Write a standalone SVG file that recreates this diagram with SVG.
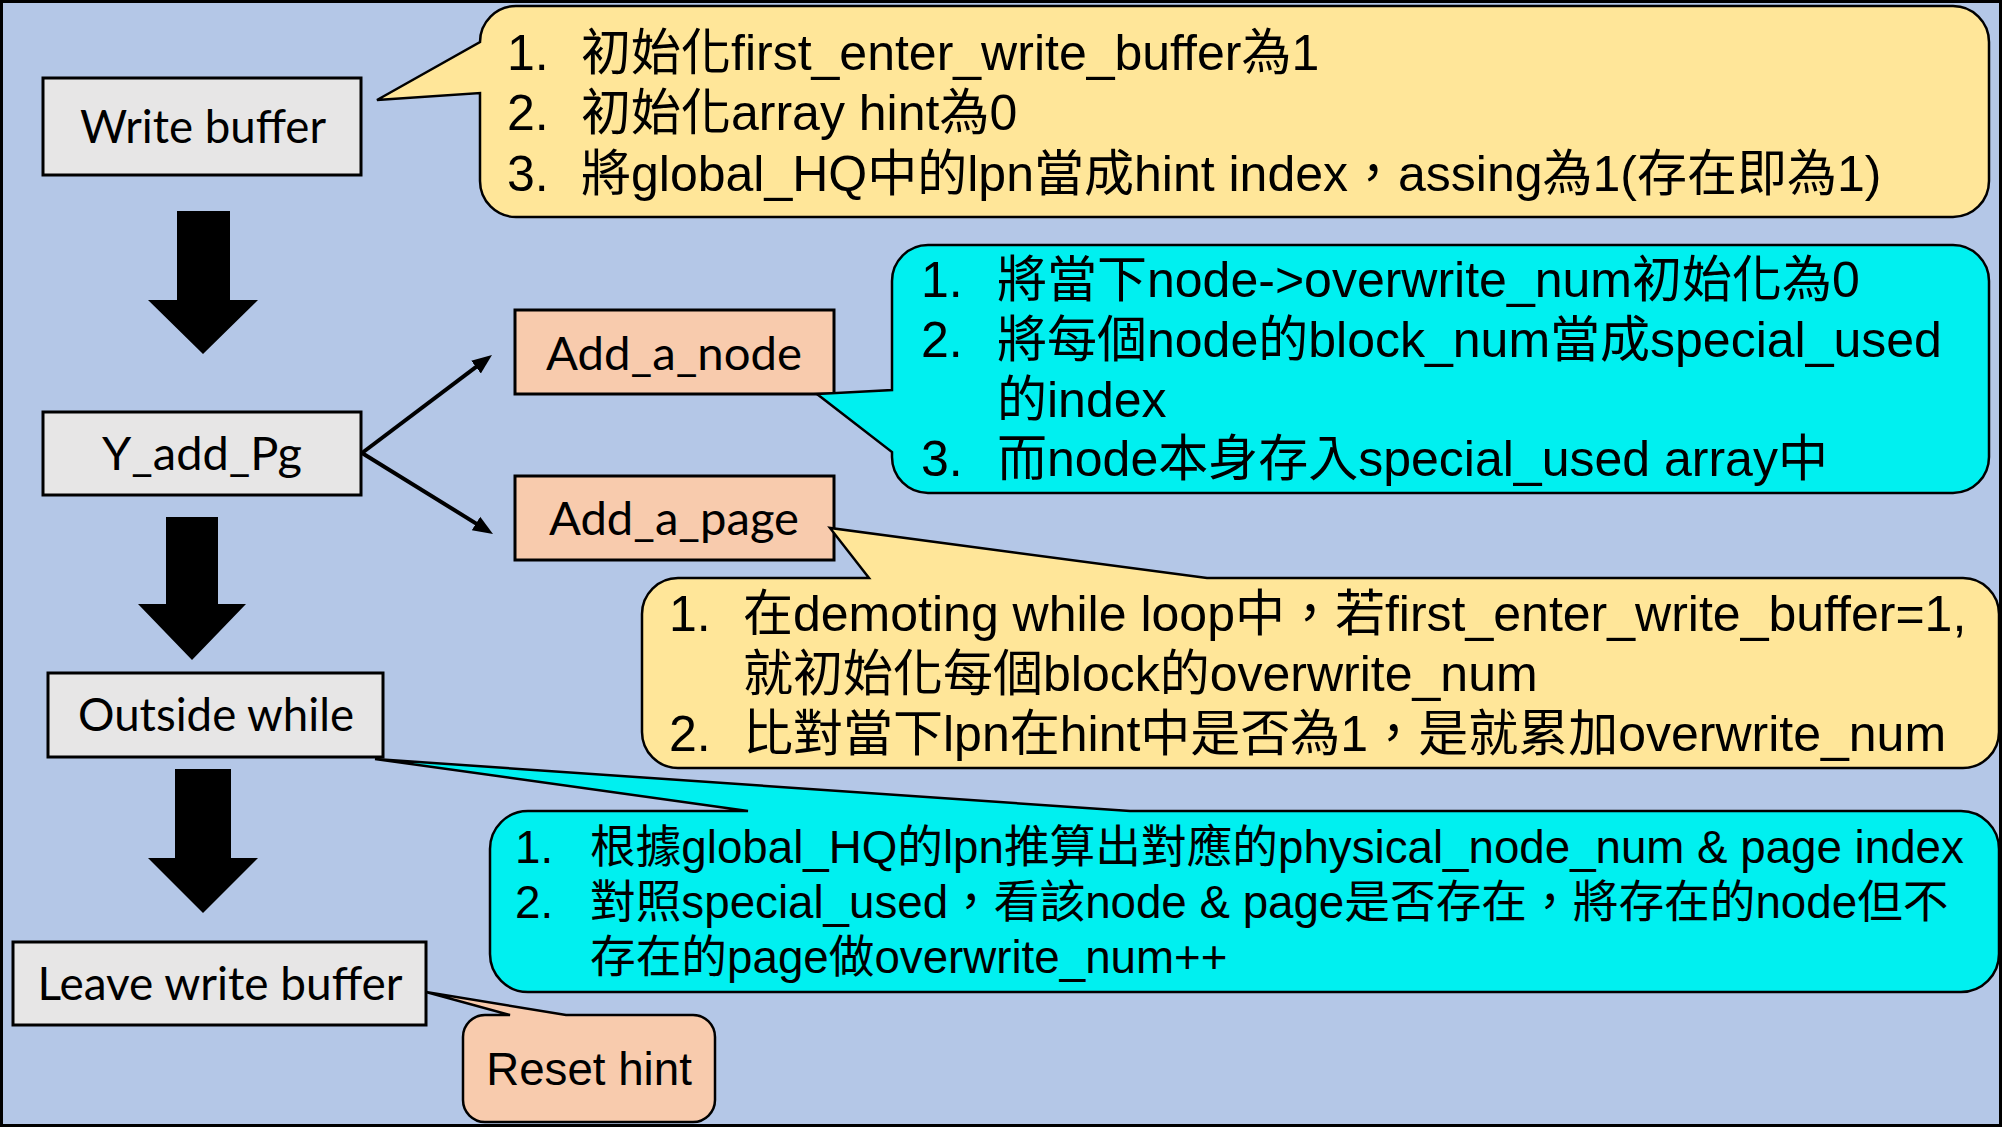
<svg xmlns="http://www.w3.org/2000/svg" width="2002" height="1127" viewBox="0 0 2002 1127">
<style>
.box{stroke:#000;stroke-width:3}
.grey{fill:#E7E6E6}
.peach{fill:#F8CBAD}
.co{stroke:#000;stroke-width:2.5;stroke-linejoin:miter}
.yel{fill:#FFE699}
.cy{fill:#00F0F0}
.lbl{font-family:Lato,"Open Sans",sans-serif;font-size:46px;fill:#000;text-anchor:middle}
.t{font-family:"Liberation Sans","Noto Sans CJK TC",sans-serif;font-size:50px;fill:#000}
.t4{font-family:"Liberation Sans","Noto Sans CJK TC",sans-serif;font-size:45.7px;fill:#000}
.blk{fill:#000}
.thin{stroke:#000;stroke-width:4;fill:none}
</style>
<defs>
<marker id="ah" viewBox="0 0 10 10" refX="3" refY="5" markerWidth="20" markerHeight="20" markerUnits="userSpaceOnUse" orient="auto">
<path d="M0,1 L10,5 L0,9 Z" fill="#000"/>
</marker>
</defs>
<rect x="1.5" y="1.5" width="1999" height="1124" fill="#B4C7E7" stroke="#000" stroke-width="3"/>

<g id="connectors">
<path class="blk" d="M177,211 H230 V300 H258 L203,354 L148,300 H177 Z"/>
<path class="blk" d="M166,517 H218 V604 H246 L192,660 L138,604 H166 Z"/>
<path class="blk" d="M175,769 H231 V858 H258 L203,913 L148,858 H175 Z"/>
<line class="thin" x1="362" y1="453" x2="480.8" y2="363.4" marker-end="url(#ah)"/>
<line class="thin" x1="362" y1="453" x2="481.1" y2="526.6" marker-end="url(#ah)"/>
</g>

<g id="write_buffer">
<rect class="box grey" x="43" y="78" width="318" height="97"/>
<text class="lbl" x="203" y="143" textLength="246" lengthAdjust="spacingAndGlyphs">Write buffer</text>
</g>

<g id="note_write_buffer">
<path class="co yel" d="M516,6 H1953 A36,36 0 0 1 1989,42 V181 A36,36 0 0 1 1953,217 H516 A36,36 0 0 1 480,181 V93 L377,100 L480,42 A36,36 0 0 1 516,6 Z"/>
<text class="t" x="507" y="70">1.</text>
<text class="t" x="581" y="70">初始化first_enter_write_buffer為1</text>
<text class="t" x="507" y="130">2.</text>
<text class="t" x="581" y="130">初始化array hint為0</text>
<text class="t" x="507" y="191">3.</text>
<text class="t" x="581" y="191">將global_HQ中的lpn當成hint index，assing為1(存在即為1)</text>
</g>

<g id="y_add_pg">
<rect class="box grey" x="43" y="412" width="318" height="83"/>
<text class="lbl" x="202" y="470" textLength="200" lengthAdjust="spacingAndGlyphs">Y_add_Pg</text>
</g>

<g id="add_a_node">
<rect class="box peach" x="515" y="310" width="319" height="84"/>
<text class="lbl" x="674" y="370" textLength="256" lengthAdjust="spacingAndGlyphs">Add_a_node</text>
</g>

<g id="note_add_a_node">
<path class="co cy" d="M928,245 H1953 A36,36 0 0 1 1989,281 V457 A36,36 0 0 1 1953,493 H928 A36,36 0 0 1 892,457 V452 L817,394 L892,390 V281 A36,36 0 0 1 928,245 Z"/>
<text class="t" x="921" y="297">1.</text>
<text class="t" x="997" y="297">將當下node-&gt;overwrite_num初始化為0</text>
<text class="t" x="921" y="357">2.</text>
<text class="t" x="997" y="357">將每個node的block_num當成special_used</text>
<text class="t" x="997" y="417">的index</text>
<text class="t" x="921" y="476">3.</text>
<text class="t" x="997" y="476">而node本身存入special_used array中</text>
</g>

<g id="add_a_page">
<rect class="box peach" x="515" y="476" width="319" height="84"/>
<text class="lbl" x="674" y="535" textLength="250" lengthAdjust="spacingAndGlyphs">Add_a_page</text>
</g>

<g id="note_add_a_page">
<path class="co yel" d="M678,578 H869 L830,528 L1207,578 H1963 A36,36 0 0 1 1999,614 V732 A36,36 0 0 1 1963,768 H678 A36,36 0 0 1 642,732 V614 A36,36 0 0 1 678,578 Z"/>
<text class="t" x="669" y="631">1.</text>
<text class="t" x="743" y="631">在demoting while loop中，若first_enter_write_buffer=1,</text>
<text class="t" x="743" y="691">就初始化每個block的overwrite_num</text>
<text class="t" x="669" y="751">2.</text>
<text class="t" x="743" y="751">比對當下lpn在hint中是否為1，是就累加overwrite_num</text>
</g>

<g id="outside_while">
<rect class="box grey" x="48" y="673" width="335" height="84"/>
<text class="lbl" x="216" y="731" textLength="276" lengthAdjust="spacingAndGlyphs">Outside while</text>
</g>

<g id="note_outside_while">
<path class="co cy" d="M528,811 H748 L375,759 L1130,811 H1961 A38,38 0 0 1 1999,849 V954 A38,38 0 0 1 1961,992 H528 A38,38 0 0 1 490,954 V849 A38,38 0 0 1 528,811 Z"/>
<text class="t4" x="515" y="863">1.</text>
<text class="t4" x="590" y="863">根據global_HQ的lpn推算出對應的physical_node_num &amp; page index</text>
<text class="t4" x="515" y="918">2.</text>
<text class="t4" x="590" y="918">對照special_used，看該node &amp; page是否存在，將存在的node但不</text>
<text class="t4" x="590" y="973">存在的page做overwrite_num++</text>
</g>

<g id="leave_write_buffer">
<rect class="box grey" x="13" y="942" width="413" height="83"/>
<text class="lbl" x="220" y="1000" textLength="365" lengthAdjust="spacingAndGlyphs">Leave write buffer</text>
</g>

<g id="note_reset_hint">
<path class="co peach" d="M485,1015 H510 L426,992 L566,1015 H693 A22,22 0 0 1 715,1037 V1100 A22,22 0 0 1 693,1122 H485 A22,22 0 0 1 463,1100 V1037 A22,22 0 0 1 485,1015 Z"/>
<text class="t4" x="589" y="1085" text-anchor="middle">Reset hint</text>
</g>
</svg>
